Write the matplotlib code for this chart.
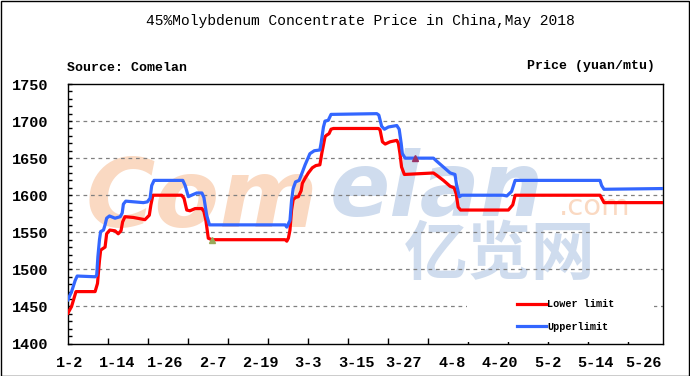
import matplotlib
matplotlib.use('Agg')
import matplotlib.pyplot as plt
from matplotlib.patches import Rectangle

# x positions are days counted from Jan 2, 2018
lower_day = [-0.3, 0.6, 1.7, 6.5, 7.1, 7.6, 7.9, 9.0, 9.4, 10.2, 11.5, 12.3, 13.0, 13.4, 14.0,
             16.1, 19.0, 20.1, 20.5, 21.0, 28.2, 28.8, 29.5, 30.3, 31.6, 33.3, 33.8, 34.3, 34.9,
             35.8, 54.2, 54.6, 55.0, 55.4, 55.8, 56.2, 56.8, 57.5, 58.2, 58.5, 59.2, 60.0, 61.0,
             61.9, 62.9, 63.4, 63.8, 64.2, 64.6, 65.2, 65.7, 66.3, 77.6, 78.0, 78.6, 79.3, 80.5,
             82.2, 82.6, 83.0, 83.4, 84.1, 91.4, 92.2, 93.9, 95.6, 96.6, 97.1, 97.6, 98.2, 108.9,
             110.2, 111.3, 111.9, 133.2, 133.6, 134.2, 149.0]
lower_price = [1441, 1450, 1470, 1470, 1481, 1512, 1526, 1530, 1548, 1553, 1552, 1548, 1552, 1564, 1571,
               1570, 1567, 1573, 1587, 1600, 1600, 1596, 1580, 1579, 1582, 1582, 1578, 1566, 1542,
               1540, 1540, 1538, 1542, 1553, 1580, 1594, 1597, 1598, 1606, 1616, 1623, 1630, 1637,
               1640, 1641, 1657, 1668, 1679, 1681, 1683, 1689, 1690, 1690, 1688, 1672, 1669, 1672,
               1674, 1670, 1656, 1638, 1628, 1630, 1627, 1620, 1612, 1610, 1602, 1584, 1580, 1580,
               1580, 1587, 1600, 1600, 1596, 1590, 1590]

upper_day = [-0.3, 0.6, 1.5, 2.0, 6.5, 6.9, 7.2, 7.6, 7.9, 8.6, 9.0, 9.4, 10.1, 11.5, 12.8, 13.3,
             13.6, 14.2, 18.6, 19.6, 20.3, 20.7, 21.3, 28.5, 29.1, 29.9, 30.7, 32.0, 33.3, 33.8,
             34.5, 35.2, 35.8, 54.2, 54.6, 55.4, 55.8, 56.2, 56.8, 57.7, 58.5, 59.2, 60.4, 61.5,
             62.9, 63.2, 63.8, 64.2, 65.0, 65.7, 77.2, 77.7, 78.4, 79.1, 80.1, 82.2, 82.8, 83.3,
             83.6, 84.3, 91.4, 92.2, 93.9, 95.6, 96.8, 97.2, 97.9, 98.5, 108.9, 109.8, 111.0,
             111.9, 133.2, 133.6, 134.2, 149.0]
upper_price = [1459, 1470, 1485, 1491, 1490, 1492, 1517, 1540, 1551, 1553, 1560, 1569, 1572, 1569, 1571, 1576,
               1588, 1592, 1590, 1591, 1596, 1613, 1620, 1620, 1613, 1598, 1600, 1603, 1603, 1597,
               1573, 1560, 1560, 1560, 1557, 1566, 1593, 1609, 1618, 1620, 1631, 1641, 1656, 1660,
               1661, 1670, 1692, 1700, 1701, 1709, 1710, 1708, 1693, 1689, 1692, 1694, 1689, 1670,
               1656, 1650, 1650, 1646, 1638, 1630, 1628, 1614, 1598, 1600, 1600, 1599, 1605,
               1620, 1620, 1613, 1608, 1609]

date_labels = ['1-2', '1-14', '1-26', '2-7', '2-19', '3-3', '3-15', '3-27', '4-8', '4-20', '5-2', '5-14', '5-26']
label_days = [0, 12, 24, 36, 48, 60, 72, 84, 96, 108, 120, 132, 144]

marker_day = [35.8, 86.8]
marker_price = [1540, 1650]
marker_color = ['#9aaa5a', '#993366']

W, H = 690, 376
fig = plt.figure(figsize=(W / 100, H / 100), dpi=100)
fig.patch.set_facecolor('white')
fig.patches.append(Rectangle((0.5 / W, 0.5 / H), 1 - 1.5 / W, 1 - 1.5 / H, transform=fig.transFigure,
                             fill=False, edgecolor='black', linewidth=1))

ax = fig.add_axes([68 / W, (H - 343.5) / H, 595 / W, 259.5 / H])
ax.set_xlim(-0.3, 149.0)
ax.set_ylim(1400, 1750)

# watermark (Comelan logo)
ax.text(0.03, 0.45, 'Com', transform=ax.transAxes, fontsize=68, fontweight='bold', style='oblique',
        color='#fad9c2', family='DejaVu Sans', zorder=0)
ax.text(0.44, 0.49, 'elan', transform=ax.transAxes, fontsize=64, fontweight='bold', style='oblique',
        color='#cfdcee', family='DejaVu Sans', zorder=0)
ax.text(0.825, 0.495, '.com', transform=ax.transAxes, fontsize=21, color='#fad9c2',
        family='DejaVu Sans', zorder=0)
ax.text(0.726, 0.34, '亿览网', transform=ax.transAxes, fontsize=46, fontweight='bold', ha='center',
        va='center', color='#cfdcee', family='Noto Sans CJK SC', zorder=0)

for v in [1450, 1500, 1550, 1600, 1650, 1700]:
    ax.axhline(v, color='#808080', linestyle=(0, (3, 3)), linewidth=0.9, zorder=1)
# white area behind the legend hides part of the 1450 grid line
ax.add_patch(Rectangle((0.67, 0.005), 0.315, 0.22, transform=ax.transAxes, facecolor='white',
                       edgecolor='none', zorder=2))

ax.plot(lower_day, lower_price, color='#ff0000', linewidth=2.3, label='Lower limit', zorder=3)
ax.plot(upper_day, upper_price, color='#3366ff', linewidth=2.3, label='Upperlimit', zorder=3)
for d, p, c in zip(marker_day, marker_price, marker_color):
    ax.plot(d, p, marker='^', markersize=5, color=c, zorder=4)

mono = 'Liberation Mono'
ax.set_yticks(range(1400, 1751, 50))
ax.set_yticks(range(1400, 1751, 10), minor=True)
ax.set_xticks(label_days)
ax.set_xticklabels(date_labels)
ax.set_xticks([-0.3 + 10.04 * k for k in range(1, 15)], minor=True)
ax.tick_params(axis='y', which='both', direction='in', length=3, width=1, pad=14)
ax.tick_params(axis='x', which='major', length=0, pad=9)
ax.tick_params(axis='x', which='minor', direction='in', length=4, width=1)
for lab in ax.get_xticklabels() + ax.get_yticklabels():
    lab.set_family(mono)
    lab.set_fontweight('bold')
    lab.set_fontsize(11)
for s in ax.spines.values():
    s.set_linewidth(1)
    s.set_color('black')

leg = ax.legend(loc='upper left', bbox_to_anchor=(0.755, 0.17), frameon=False, handlelength=2.8,
                handletextpad=0.15, labelspacing=1.2, borderpad=0, borderaxespad=0,
                prop={'family': mono, 'weight': 'bold', 'size': 7.3})
leg.set_zorder(5)

fig.text(360 / W, 1 - 21 / H, '45%Molybdenum Concentrate Price in China,May 2018', ha='center', va='center',
         family=mono, fontsize=10.5)
fig.text(67 / W, 1 - 68 / H, 'Source: Comelan', ha='left', va='center', family=mono, fontsize=9.5,
         fontweight='bold')
fig.text(655 / W, 1 - 66 / H, 'Price (yuan/mtu)', ha='right', va='center', family=mono, fontsize=9.5,
         fontweight='bold')

fig.savefig('out.png', dpi=100)
